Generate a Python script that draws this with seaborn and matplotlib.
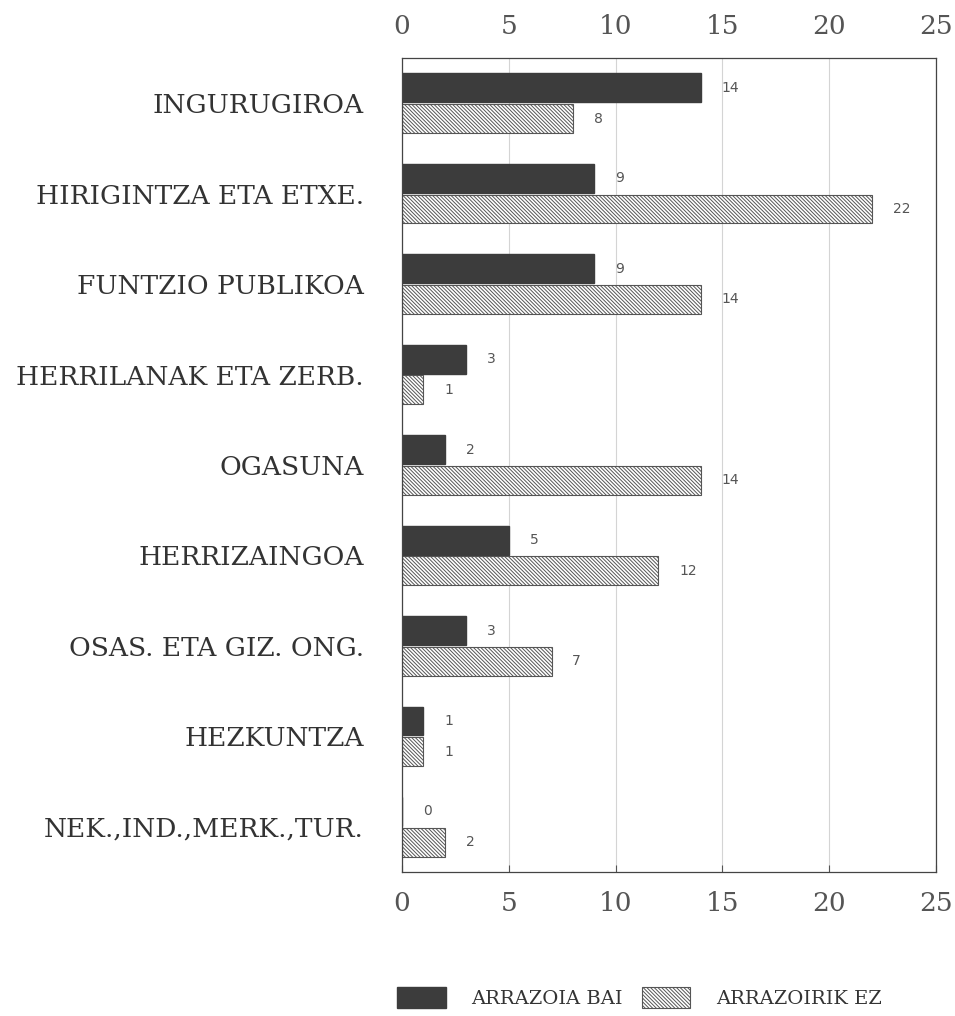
import pandas as pd
import matplotlib.pyplot as plt
import seaborn as sns
from matplotlib.patches import Patch

# Data
categories = ["INGURUGIROA", "HIRIGINTZA ETA ETXE.", "FUNTZIO PUBLIKOA",
              "HERRILANAK ETA ZERB.", "OGASUNA", "HERRIZAINGOA",
              "OSAS. ETA GIZ. ONG.", "HEZKUNTZA", "NEK.,IND.,MERK.,TUR."]
arrazoia_bai = [14, 9, 9, 3, 2, 5, 3, 1, 0]
arrazoirik_ez = [8, 22, 14, 1, 14, 12, 7, 1, 2]
series_names = ["ARRAZOIA BAI", "ARRAZOIRIK EZ"]
x_ticks = [0, 5, 10, 15, 20, 25]

# Long format for seaborn
df = pd.DataFrame({
    "Category": categories * 2,
    "Value": arrazoia_bai + arrazoirik_ez,
    "Series": [series_names[0]] * len(categories) + [series_names[1]] * len(categories),
})

sns.set_style("white")
plt.rcParams["font.family"] = ["DejaVu Serif"]
plt.rcParams["hatch.linewidth"] = 0.7
plt.rcParams["hatch.color"] = "#444444"

dark = "#3c3c3c"
hatch = "\\" * 9

fig = plt.figure(figsize=(9.55, 10.16), dpi=100)
ax = fig.add_axes([402 / 955, 1 - 872 / 1016, 534 / 955, 814 / 1016])

sns.barplot(data=df, x="Value", y="Category", hue="Series", orient="h",
            palette=[dark, "white"], width=0.68, gap=0.06, legend=False, ax=ax)

# hatch the second series and outline it
for bar in ax.containers[1]:
    bar.set_hatch(hatch)
    bar.set_edgecolor("#555555")
    bar.set_linewidth(0.8)
for bar in ax.containers[0]:
    bar.set_edgecolor(dark)

# value labels next to the bars
for cont in ax.containers:
    ax.bar_label(cont, padding=15, fontsize=10, color="#555555", family="DejaVu Sans")

ax.set_xlim(0, 25)
ax.set_ylim(8.5, -0.5)
ax.set_xticks(x_ticks)
ax.xaxis.grid(True, color="#d4d4d4", linewidth=0.8)
ax.set_axisbelow(True)
ax.tick_params(axis="x", which="both", top=False, bottom=True, direction="in",
               length=5, width=0.8, color="#555555", labeltop=True,
               labelbottom=True, labelsize=19, labelcolor="#555555", pad=14)
ax.tick_params(axis="y", left=False, labelsize=19, labelcolor="#333333", pad=24)
ax.set_xlabel("")
ax.set_ylabel("")
for s in ax.spines.values():
    s.set_color("#444444")
    s.set_linewidth(0.9)

# legend at the bottom
handles = [Patch(facecolor=dark, edgecolor=dark),
           Patch(facecolor="white", edgecolor="#555555", hatch=hatch, linewidth=0.8)]
fig.legend(handles, series_names, loc="lower left", bbox_to_anchor=(397 / 955, 8 / 1016),
           ncol=2, frameon=False, fontsize=14, handlelength=2.5, handleheight=1.3,
           columnspacing=1.0, handletextpad=1.3, borderpad=0, borderaxespad=0,
           labelcolor="#333333")

fig.savefig("out.png", dpi=100)
